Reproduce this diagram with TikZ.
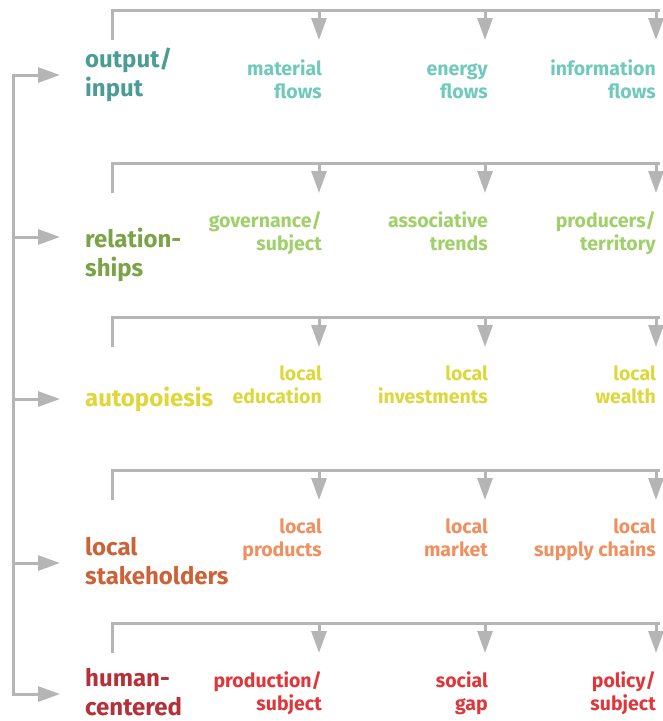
\documentclass[tikz,border=0pt]{standalone}
\usepackage{fontspec}
\setmainfont{Fira Sans}
\usetikzlibrary{arrows.meta}

\definecolor{linegray}{HTML}{B5B5B5}
\definecolor{tealdark}{HTML}{4A9C94}
\definecolor{teallight}{HTML}{6FCABB}
\definecolor{greendark}{HTML}{7AA348}
\definecolor{greenlight}{HTML}{A0D06A}
\definecolor{yellowdark}{HTML}{E0D638}
\definecolor{yellowlight}{HTML}{DCD83C}
\definecolor{orangedark}{HTML}{CC6238}
\definecolor{orangelight}{HTML}{F08F5F}
\definecolor{reddark}{HTML}{B53038}
\definecolor{redlight}{HTML}{E0363A}

\begin{document}
\begin{tikzpicture}[
            x = 1pt, y = -1pt, % pixel grid of the layout
            > = {Triangle[length=22pt, width=15pt]}, % arrow head style
            link/.style = {draw = linegray, line width = 3pt},
            head/.style = {
                font = \fontsize{24}{29}\selectfont\bfseries,
                align = left, anchor = base west, inner sep = 0pt
            },
            item/.style = {
                font = \fontsize{19.5}{23}\selectfont\bfseries,
                align = right, anchor = base east, inner sep = 0pt
            }
        ]
        \useasboundingbox (0,0) rectangle (663,721);

        % levels (placed by the baseline of their last line)
        \node[head, tealdark] (out) at (85,96) {output/\\input};
        \node[head, greendark] (rel) at (85,276) {relation-\\ships};
        \node[head, yellowdark] (auto) at (85,406) {autopoiesis};
        \node[head, orangedark] (stake) at (85,584) {local\\stakeholders};
        \node[head, reddark] (human) at (85,715) {human-\\centered};

        % items of each level
        \node[item, teallight] (out1) at (322,98) {material\\flows};
        \node[item, teallight] (out2) at (488,98) {energy\\flows};
        \node[item, teallight] (out3) at (656,98) {information\\flows};

        \node[item, greenlight] (rel1) at (322,250) {governance/\\subject};
        \node[item, greenlight] (rel2) at (488,250) {associative\\trends};
        \node[item, greenlight] (rel3) at (656,250) {producers/\\territory};

        \node[item, yellowlight] (auto1) at (322,403) {local\\education};
        \node[item, yellowlight] (auto2) at (488,403) {local\\investments};
        \node[item, yellowlight] (auto3) at (656,403) {local\\wealth};

        \node[item, orangelight] (stake1) at (322,556) {local\\products};
        \node[item, orangelight] (stake2) at (488,556) {local\\market};
        \node[item, orangelight] (stake3) at (656,556) {local\\supply chains};

        \node[item, redlight] (human1) at (322,710) {production/\\subject};
        \node[item, redlight] (human2) at (488,710) {social\\gap};
        \node[item, redlight] (human3) at (656,710) {policy/\\subject};

        % brackets over the items
        \foreach \name/\y in {out/10, rel/163, auto/317, stake/470, human/623} {
            \coordinate (\name-top) at (112,\y);
            \draw[link] (112,\y+30) -- (\name-top) -- (660,\y);
            \foreach \x in {319, 485, 656}
                \draw[link, ->] (\x,\y) -- (\x,\y+30);
        }

        % loop back into every level
        \coordinate (spine-top) at (13,75);
        \coordinate (spine-bot) at (13,694);
        \draw[link, line cap = rect] (spine-top) -- (spine-bot);
        \foreach \name/\y in {out/75, rel/237, auto/399, stake/563, human/694} {
            \coordinate (\name-in) at (60,\y);
            \draw[link, ->] (13,\y) -- (\name-in);
        }
    \end{tikzpicture}
\end{document}
